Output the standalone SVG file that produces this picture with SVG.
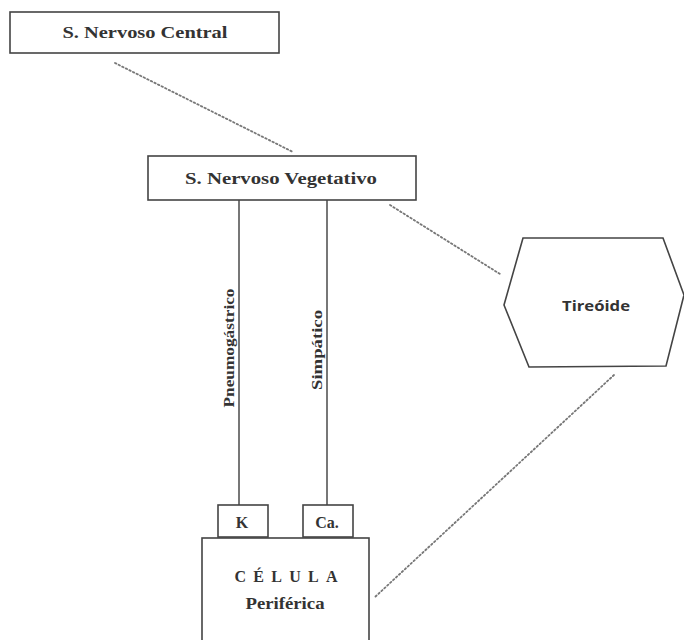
<svg xmlns="http://www.w3.org/2000/svg" width="684" height="640" viewBox="0 0 684 640">
<style>
.box{fill:#fff;stroke:#444;stroke-width:1.6}
.ln{stroke:#555;stroke-width:1.6;fill:none}
.dot{stroke:#777;stroke-width:1.8;fill:none;stroke-dasharray:1.5 2.5;stroke-linecap:round}
.t{font-family:"Liberation Serif",serif;font-weight:bold;fill:#333;text-anchor:middle}
.s{font-family:"Open Sans","DejaVu Sans",sans-serif;font-weight:bold;fill:#333;text-anchor:middle}
</style>
<rect width="684" height="640" fill="#fff"/>
<g id="connectors">
<line class="dot" x1="115" y1="63" x2="293" y2="152"/>
<line class="dot" x1="390" y1="205" x2="500" y2="274"/>
<line class="dot" x1="614" y1="375" x2="375" y2="597"/>
<line class="ln" x1="239" y1="200" x2="239" y2="505"/>
<line class="ln" x1="327" y1="200" x2="327" y2="505"/>
<text class="t" font-size="14" transform="translate(234,348) rotate(-90)" textLength="119" lengthAdjust="spacingAndGlyphs">Pneumogástrico</text>
<text class="t" font-size="14" transform="translate(322,350) rotate(-90)" textLength="80" lengthAdjust="spacingAndGlyphs">Simpático</text>
</g>
<g id="snc">
<rect class="box" x="10" y="12" width="269" height="41"/>
<text class="t" x="145" y="38" font-size="16" textLength="165" lengthAdjust="spacingAndGlyphs">S. Nervoso Central</text>
</g>
<g id="snv">
<rect class="box" x="148" y="156" width="268" height="44"/>
<text class="t" x="281" y="184" font-size="17" textLength="192" lengthAdjust="spacingAndGlyphs">S. Nervoso Vegetativo</text>
</g>
<g id="tireoide">
<polygon class="box" points="523,238 663,238 684,295 666,366 529,367 504,305"/>
<text class="s" x="596" y="311" font-size="14" textLength="68" lengthAdjust="spacingAndGlyphs">Tireóide</text>
</g>
<g id="k">
<rect class="box" x="218" y="505" width="50" height="32"/>
<text class="t" x="242" y="528" font-size="16">K</text>
</g>
<g id="ca">
<rect class="box" x="303" y="505" width="50" height="32"/>
<text class="t" x="327" y="528" font-size="16">Ca.</text>
</g>
<g id="celula">
<rect class="box" x="202" y="538" width="167" height="110"/>
<text class="t" x="286" y="582" font-size="16" textLength="103" lengthAdjust="spacing">CÉLULA</text>
<text class="t" x="285" y="609" font-size="16" textLength="79" lengthAdjust="spacingAndGlyphs">Periférica</text>
</g>
</svg>
